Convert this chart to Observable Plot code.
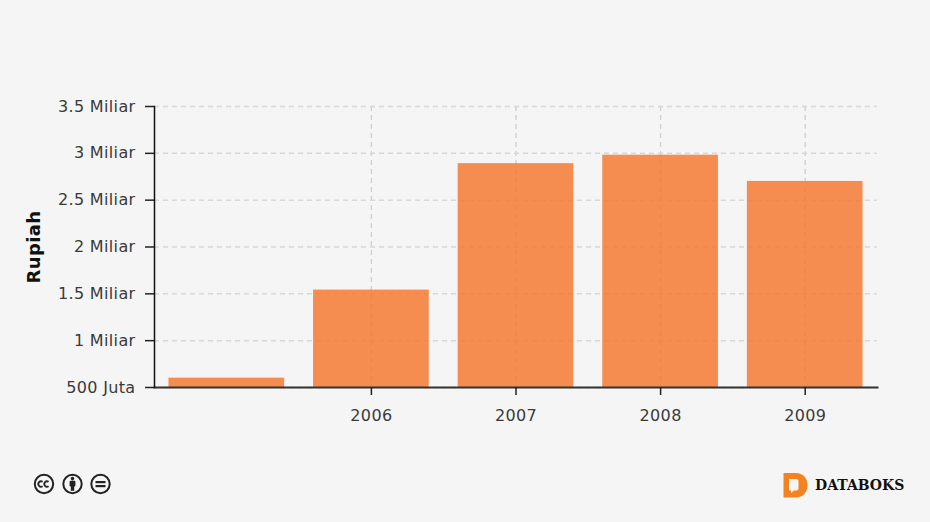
<!DOCTYPE html>
<html><head><meta charset="utf-8">
<style>
html,body{margin:0;padding:0;width:930px;height:522px;background:#f5f5f5;overflow:hidden}
#chart{position:absolute;left:0;top:0}
#cc{position:absolute;left:33px;top:473px}
#logo{position:absolute;left:783px;top:472px}
#brand{position:absolute;left:815px;top:475px;font:bold 14px "DejaVu Serif";color:#111;line-height:20px}
</style>
<script src="https://cdn.jsdelivr.net/npm/d3@7"></script>
<script src="https://cdn.jsdelivr.net/npm/@observablehq/plot@0.6"></script>
</head><body>
<div id="chart"></div>
<svg id="cc" width="80" height="22" viewBox="0 0 80 22">
  <g fill="none" stroke="#222" stroke-width="2">
    <circle cx="11" cy="11" r="9.2"/><circle cx="39.5" cy="11" r="9.2"/><circle cx="67.5" cy="11" r="9.2"/>
  </g>
  <g fill="none" stroke="#222" stroke-width="1.8">
    <path d="M9.6 8.8A2.7 2.7 0 1 0 9.6 13.2"/><path d="M15.6 8.8A2.7 2.7 0 1 0 15.6 13.2"/>
  </g>
  <g fill="#222"><circle cx="39.5" cy="5.6" r="1.8"/><rect x="36.6" y="7.8" width="5.8" height="5.8" rx="1"/><rect x="37.8" y="12" width="3.4" height="5.8"/></g>
  <g fill="#222"><rect x="62.5" y="8" width="10" height="2.2"/><rect x="62.5" y="12" width="10" height="2.2"/></g>
</svg>
<svg id="logo" width="26" height="27" viewBox="0 0 26 27">
  <path d="M0.5 1H13C20 1 24.5 6 24.5 13S20 25.5 13 25.5H0.5Z" fill="#f58220"/>
  <path d="M6 7H13.5C14.5 7 15.5 8 15.5 9V16.5C15.5 17.5 14.5 18.5 13.5 18.5H11L8 21V18.5H7C6.4 18.5 6 18 6 17.5Z" fill="#f5f5f5"/>
</svg>
<div id="brand">DATABOKS</div>
<script>
const categories = ["", "2006", "2007", "2008", "2009"];
const values = [0.6e9, 1.54e9, 2.89e9, 2.98e9, 2.7e9];
const xTicks = ["2006", "2007", "2008", "2009"];
const yTicks = [0.5e9, 1e9, 1.5e9, 2e9, 2.5e9, 3e9, 3.5e9];
const yLabels = ["500 Juta", "1 Miliar", "1.5 Miliar", "2 Miliar", "2.5 Miliar", "3 Miliar", "3.5 Miliar"];
const rows = categories.map((c, i) => ({c, v: values[i]}));
const yFormat = v => yLabels[yTicks.indexOf(v)];

const plot = Plot.plot({
  width: 930, height: 522,
  marginLeft: 154, marginRight: 53, marginTop: 106, marginBottom: 135,
  style: {background: "transparent", fontFamily: "'DejaVu Sans'", fontSize: "16px", letterSpacing: "0.35px", color: "#333"},
  x: {domain: categories, paddingInner: 0.2, paddingOuter: 0.1, round: false, label: null},
  y: {domain: [0.5e9, 3.5e9], label: null},
  marks: [
    Plot.gridX(xTicks, {stroke: "#d0d0d0", strokeOpacity: 1, strokeDasharray: "5 4", strokeWidth: 1.4}),
    Plot.gridY(yTicks, {stroke: "#d8d8d8", strokeOpacity: 1, strokeDasharray: "5 4", strokeWidth: 1.5}),
    Plot.barY(rows, {x: "c", y1: 0.5e9, y2: "v", fill: "#f47a34", fillOpacity: 0.85}),
    Plot.frame({anchor: "bottom", stroke: "#333", strokeWidth: 2, strokeOpacity: 1}),
    Plot.frame({anchor: "left", stroke: "#111", strokeWidth: 1.5, strokeOpacity: 1}),
    Plot.axisY({ticks: yTicks, tickFormat: yFormat, tickSize: 9, tickPadding: 10, stroke: "#222", strokeWidth: 1.5, fill: "#3a3a3a", label: null}),
    Plot.axisX({ticks: xTicks, tickSize: 8, tickPadding: 14, stroke: "#222", strokeWidth: 1.5, fill: "#3a3a3a", label: null}),
    Plot.text(["Rupiah"], {frameAnchor: "left", dx: -120, rotate: -90, fontWeight: "bold", fontSize: 18, fill: "#111", textAnchor: "middle"})
  ]
});
document.getElementById("chart").append(plot);
</script>
</body></html>
